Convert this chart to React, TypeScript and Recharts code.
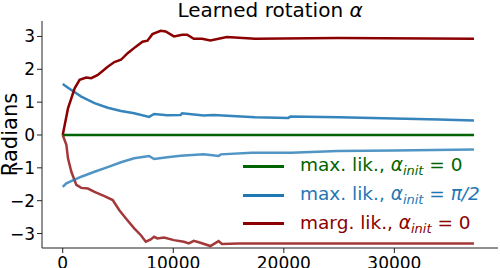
import { LineChart, Line, XAxis, YAxis } from "recharts";

// training steps and learned angle (radians) per run
const greenSteps = [0, 37200];
const greenValues = [0, 0];

const blueUpSteps = [0, 476, 1677, 2874, 4070, 5270, 6466, 7813, 8263, 9460, 10658, 10808, 12754, 13650, 17400, 20400, 20600, 25000, 30000, 34000, 37200];
const blueUpValues = [1.55, 1.44, 1.17, 0.97, 0.83, 0.73, 0.66, 0.55, 0.64, 0.6, 0.61, 0.66, 0.59, 0.61, 0.54, 0.52, 0.56, 0.54, 0.5, 0.47, 0.44];

const blueLowSteps = [0, 330, 1677, 2874, 4070, 5270, 6466, 7813, 8263, 9460, 10658, 12754, 14100, 14300, 17100, 20660, 24880, 30000, 37200];
const blueLowValues = [-1.58, -1.47, -1.27, -1.12, -0.98, -0.83, -0.71, -0.64, -0.73, -0.68, -0.63, -0.59, -0.64, -0.59, -0.54, -0.54, -0.49, -0.47, -0.44];

const redUpSteps = [0, 476, 1078, 1527, 2126, 2575, 3174, 4070, 4671, 5270, 5870, 6617, 7215, 7664, 8114, 8862, 9311, 10059, 10808, 11257, 11856, 12605, 13353, 14850, 17400, 24880, 37200];
const redUpValues = [0, 0.81, 1.42, 1.68, 1.75, 1.73, 1.83, 2.08, 2.22, 2.29, 2.49, 2.69, 2.84, 2.87, 3.07, 3.17, 3.15, 3.0, 3.05, 3.05, 2.93, 2.93, 2.88, 2.98, 2.93, 2.95, 2.93];

const redLowSteps = [0, 330, 476, 780, 1230, 1677, 2275, 2874, 3772, 4520, 5120, 5720, 6466, 7070, 7515, 7964, 8263, 8560, 9160, 10060, 10957, 11406, 11856, 12455, 13353, 14100, 14400, 15900, 37200];
const redLowValues = [0, -0.3, -0.71, -1.12, -1.52, -1.61, -1.63, -1.73, -1.86, -1.98, -2.29, -2.54, -2.84, -3.05, -3.25, -3.18, -3.1, -3.15, -3.12, -3.2, -3.25, -3.3, -3.22, -3.28, -3.38, -3.23, -3.32, -3.3, -3.3];

const xTicks = [0, 10000, 20000, 30000];
const yTicks = [-3, -2, -1, 0, 1, 2, 3];

const toPoints = (steps: number[], values: number[]) =>
  steps.map((x, i) => ({ x, y: values[i] }));

const GREEN = "#006400";
const BLUE = "#1f77b4";
const RED = "#8b0000";

const font = "'DejaVu Sans', sans-serif";

const legendItems = [
  { color: GREEN, text: "max. lik., ", rhs: "0" },
  { color: BLUE, text: "max. lik., ", rhs: "π/2", italicRhs: true },
  { color: RED, text: "marg. lik., ", rhs: "0" },
];

function LegendBox() {
  return (
    <div style={{ position: "absolute", left: 243, top: 152, fontFamily: font, fontSize: 18.5 }}>
      {legendItems.map((it, i) => (
        <div key={i} style={{ display: "flex", alignItems: "center", height: 28.8, color: it.color }}>
          <div style={{ width: 41, height: 3, background: it.color, marginRight: 16 }} />
          <span style={{ whiteSpace: "nowrap", lineHeight: "20px" }}>
            {it.text}
            <i>α</i>
            <i style={{ fontSize: 13, position: "relative", top: 4 }}>init</i>
            {" = "}
            {it.italicRhs ? <i>{it.rhs}</i> : it.rhs}
          </span>
        </div>
      ))}
    </div>
  );
}

export default function App() {
  const tick = { fill: "#000", fontSize: 17, fontFamily: font };
  return (
    <div style={{ position: "absolute", left: 0, top: 0, width: 500, height: 268, background: "#fff", overflow: "hidden" }}>
      <div
        style={{
          position: "absolute",
          left: 42,
          width: 456,
          top: 0,
          lineHeight: "20px",
          textAlign: "center",
          fontFamily: font,
          fontSize: 20,
          color: "#000",
        }}
      >
        Learned rotation <i>α</i>
      </div>
      <LineChart width={500} height={268} margin={{ top: 21, right: 2, bottom: 0, left: 0 }}>
        <XAxis
          type="number"
          dataKey="x"
          domain={[-1875, 39375]}
          ticks={xTicks}
          interval={0}
          allowDataOverflow
          height={20}
          tick={tick}
          tickSize={5}
          tickMargin={4}
          stroke="#222"
        />
        <YAxis
          type="number"
          dataKey="y"
          domain={[-3.44, 3.47]}
          ticks={yTicks}
          interval={0}
          allowDataOverflow
          width={42}
          tick={tick}
          tickSize={5}
          tickMargin={2}
          stroke="#222"
          tickFormatter={(v: number) => (v < 0 ? "\u2212" + Math.abs(v) : String(v))}
          label={{ value: "Radians", angle: -90, position: "center", dx: -11, style: { fontSize: 21, fontFamily: font, fill: "#000" } }}
        />
        <Line data={toPoints(redLowSteps, redLowValues)} dataKey="y" stroke={RED} strokeOpacity={0.78} strokeWidth={2.5} dot={false} isAnimationActive={false} />
        <Line data={toPoints(blueLowSteps, blueLowValues)} dataKey="y" stroke={BLUE} strokeOpacity={0.78} strokeWidth={2.5} dot={false} isAnimationActive={false} />
        <Line data={toPoints(blueUpSteps, blueUpValues)} dataKey="y" stroke={BLUE} strokeOpacity={0.9} strokeWidth={2.5} dot={false} isAnimationActive={false} />
        <Line data={toPoints(redUpSteps, redUpValues)} dataKey="y" stroke={RED} strokeWidth={2.5} dot={false} isAnimationActive={false} />
        <Line data={toPoints(greenSteps, greenValues)} dataKey="y" stroke={GREEN} strokeWidth={2.5} dot={false} isAnimationActive={false} />
      </LineChart>
      <LegendBox />
    </div>
  );
}
